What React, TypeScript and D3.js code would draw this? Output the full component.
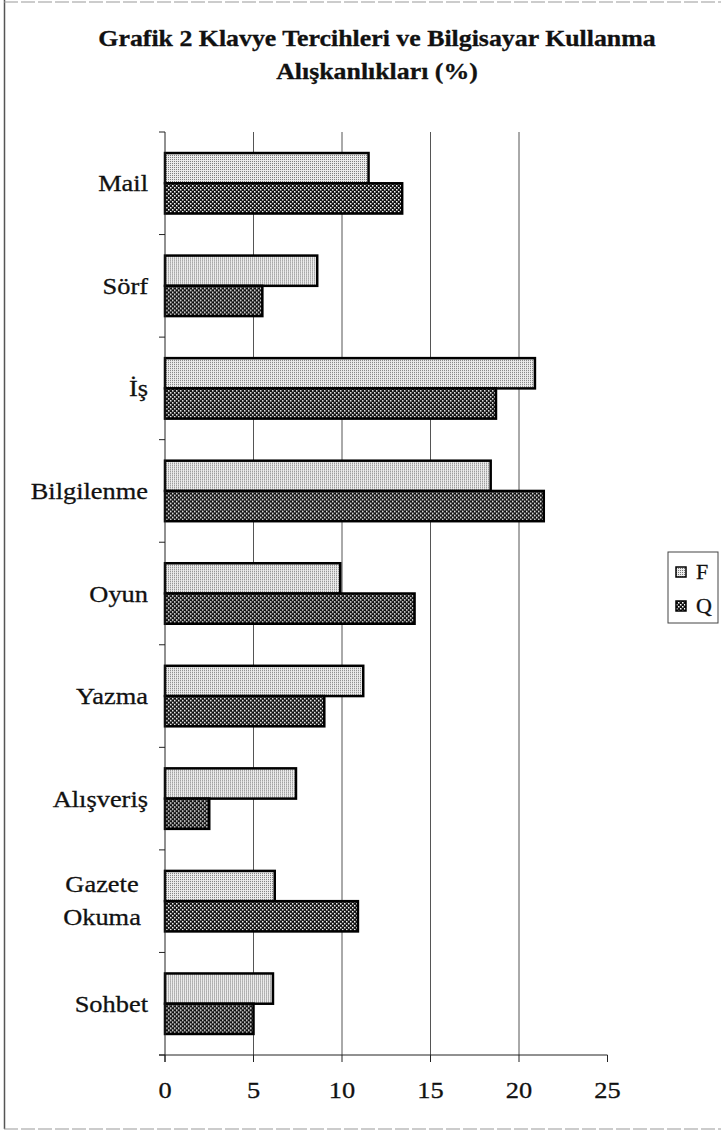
import * as React from 'react';
import * as d3 from 'd3';

// categories from top to bottom, values in %
const categories = ['Mail', 'Sörf', 'İş', 'Bilgilenme', 'Oyun', 'Yazma', 'Alışveriş', 'Gazete\nOkuma', 'Sohbet'];
const seriesNames = ['F', 'Q'];
const valuesF = [11.5, 8.6, 20.9, 18.4, 9.9, 11.2, 7.4, 6.2, 6.1];
const valuesQ = [13.4, 5.5, 18.7, 21.4, 14.1, 9.0, 2.5, 10.9, 5.0];
const xTicks = [0, 5, 10, 15, 20, 25];
const titleLines = ['Grafik 2 Klavye Tercihleri ve Bilgisayar Kullanma', 'Alışkanlıkları (%)'];

const W = 721;
const H = 1134;
const serif = '"Liberation Serif", "Times New Roman", serif';
const SX = 1.1; // the scanned page is a bit stretched horizontally

const App: React.FC = () => {
  const margin = { top: 132, left: 165, bottom: 1055, right: 607.5 };

  const x = d3.scaleLinear().domain([0, 25]).range([margin.left, margin.right]);
  const y = d3.scaleBand<string>()
    .domain(categories)
    .range([margin.top, margin.bottom])
    .paddingInner(0.41)
    .paddingOuter(0.205);
  const ySub = d3.scaleBand<string>().domain(seriesNames).range([0, y.bandwidth()]);

  const rows = categories.map((c, i) => ({ cat: c, F: valuesF[i], Q: valuesQ[i] }));
  const step = y.step();
  const bandStarts = d3.range(categories.length + 1).map(i => margin.top + i * step);

  const txt = (x0: number, y0: number, s: string, size: number, anchor: string, bold = false, key?: React.Key) => (
    <text key={key} transform={`translate(${x0},${y0}) scale(${SX},1)`} fontFamily={serif} fontSize={size}
      fontWeight={bold ? 'bold' : 'normal'} textAnchor={anchor} fill="#111" stroke="#111" strokeWidth={0.3}>{s}</text>
  );

  return (
    <svg width={W} height={H} style={{ position: 'absolute', left: 0, top: 0, background: '#fff' }}>
      <defs>
        <pattern id="patF" width="2" height="2" patternUnits="userSpaceOnUse">
          <rect width="2" height="2" fill="#ececec" />
          <rect width="1" height="1" fill="#7a7a7a" />
        </pattern>
        <pattern id="patQ" width="4" height="4" patternUnits="userSpaceOnUse">
          <rect width="4" height="4" fill="#111" />
          <rect x="0" y="0" width="1.5" height="1.5" fill="#fff" />
          <rect x="2" y="2" width="1.5" height="1.5" fill="#fff" />
        </pattern>
      </defs>

      {/* page frame from the scan */}
      <line x1={4.5} x2={4.5} y1={0} y2={1129} stroke="#555" strokeWidth={1.5} />
      <line x1={4} x2={W} y1={2} y2={2} stroke="#999" strokeWidth={1} strokeDasharray="14 3" />
      <line x1={4} x2={W} y1={1129} y2={1129} stroke="#999" strokeWidth={1} strokeDasharray="14 3" />

      {/* title */}
      {titleLines.map((t, i) => txt(377, 46 + i * 33, t, 23.5, 'middle', true, 't' + i))}

      {/* gridlines */}
      {xTicks.filter(t => t > 0 && t < 25).map(t => (
        <line key={'g' + t} x1={x(t)} x2={x(t)} y1={margin.top} y2={margin.bottom} stroke="#555" strokeWidth={1} />
      ))}

      {/* bars */}
      {rows.map(r => (
        <g key={r.cat} transform={`translate(0,${y(r.cat)})`}>
          {seriesNames.map(s => (
            <rect key={s} x={x(0)} y={ySub(s)} width={x((r as any)[s]) - x(0)} height={ySub.bandwidth()}
              fill={s === 'F' ? 'url(#patF)' : 'url(#patQ)'} stroke="#000" strokeWidth={2.5} />
          ))}
        </g>
      ))}

      {/* left axis */}
      <line x1={x(0)} x2={x(0)} y1={margin.top} y2={margin.bottom + 7} stroke="#222" strokeWidth={1} />
      {bandStarts.map((b, i) => (
        <line key={'lt' + i} x1={x(0) - 6} x2={x(0)} y1={b} y2={b} stroke="#222" strokeWidth={1} />
      ))}

      {/* category labels */}
      {rows.map(r => {
        const lines = r.cat.split('\n');
        const cy = (y(r.cat) ?? 0) + y.bandwidth() / 2;
        if (lines.length === 1) return txt(148, cy + 8, r.cat, 24, 'end', false, 'l' + r.cat);
        return (
          <g key={'l' + r.cat}>
            {lines.map((ln, j) => txt(102, cy - 9 + j * 33, ln, 24, 'middle', false, j))}
          </g>
        );
      })}

      {/* bottom axis */}
      <line x1={x(0) - 6} x2={x(25)} y1={margin.bottom} y2={margin.bottom} stroke="#222" strokeWidth={1} />
      {xTicks.map(t => (
        <g key={'bt' + t}>
          <line x1={x(t)} x2={x(t)} y1={margin.bottom} y2={margin.bottom + 7} stroke="#222" strokeWidth={1} />
          {txt(x(t), 1098, String(t), 24, 'middle')}
        </g>
      ))}

      {/* legend */}
      <rect x={668} y={552} width={50} height={71} fill="#fff" stroke="#444" strokeWidth={1} />
      {seriesNames.map((s, i) => (
        <g key={'lg' + s}>
          <rect x={676} y={567 + i * 34} width={10} height={10} fill={s === 'F' ? 'url(#patF)' : 'url(#patQ)'}
            stroke="#000" strokeWidth={1.5} />
          {txt(696, 579 + i * 34, s, 20, 'start', false)}
        </g>
      ))}
    </svg>
  );
};

export default App;
